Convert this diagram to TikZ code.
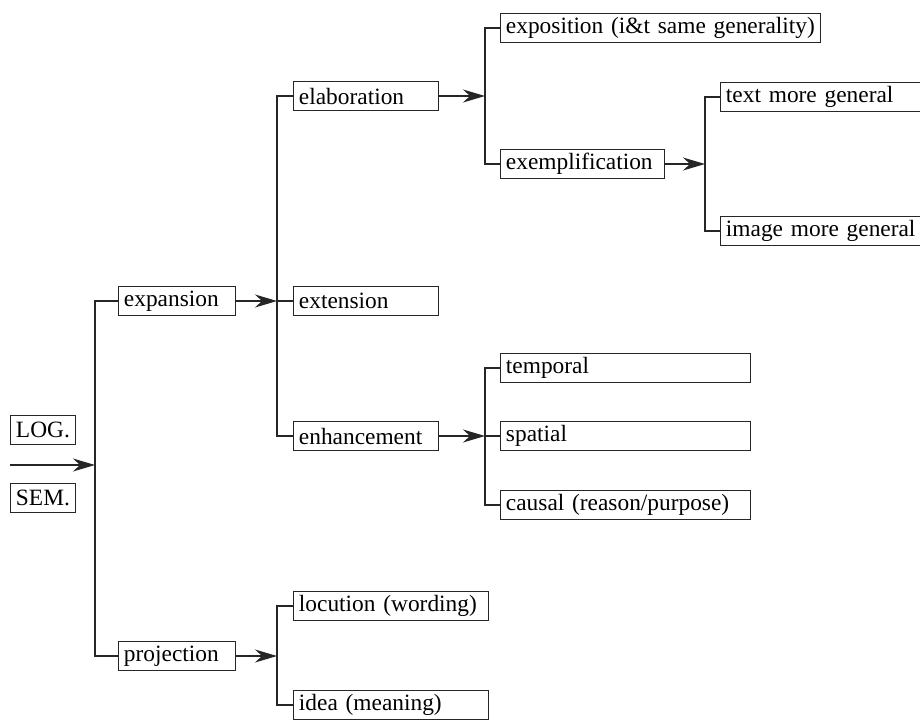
\documentclass[tikz,border=0pt]{standalone}
\usepackage{fontspec}
\setmainfont{Liberation Serif}
\usetikzlibrary{arrows.meta}

\begin{document}
\begin{tikzpicture}[
    x=0.2mm, y=-0.2mm,
    % Style for the category boxes (argument: box width in grid units)
    catBox/.style={
        draw=black!85,
        line width=0.8pt,
        anchor=west,
        minimum height=5.8mm,
        inner xsep=3pt,
        inner ysep=0pt,
        text width={#1*0.2mm-6pt},
        align=left,
        font=\fontsize{13.3}{16}\selectfont
    },
    % Style for the branching lines
    branchLine/.style={
        draw=black!85,
        line width=0.8pt
    },
    % Style for the arrows into a branch point
    feedArrow/.style={
        branchLine,
        -{Stealth[length=4.4mm, width=2.6mm, inset=1.4mm]}
    }
]
    \useasboundingbox (0,0) rectangle (920,719);

    % --- ROOT ---
    \node[catBox=65] (Log) at (10,430) {LOG.};
    \node[catBox=65] (Sem) at (10,498) {SEM.};
    \coordinate (Start) at (10,465);
    \coordinate (jRoot) at (95,465);

    % --- FIRST LEVEL ---
    \node[catBox=117] (Expansion) at (118,301) {expansion};
    \node[catBox=117] (Projection) at (118,656) {projection};
    \coordinate (jExp) at (277,301);
    \coordinate (jProj) at (277,656);

    % --- EXPANSION ---
    \node[catBox=145] (Elaboration) at (293,96) {elaboration};
    \node[catBox=145] (Extension) at (293,301) {extension};
    \node[catBox=145] (Enhancement) at (293,436) {enhancement};
    \coordinate (jElab) at (485,96);
    \coordinate (jEnh) at (485,436);

    % --- ELABORATION ---
    \node[catBox=320] (Exposition) at (500,28) {exposition (i\&t same generality)};
    \node[catBox=164] (Exemplification) at (500,164) {exemplification};
    \coordinate (jExem) at (705,164);
    \node[catBox=205] (TextGen) at (720,97) {text more general};
    \node[catBox=205] (ImageGen) at (720,231) {image more general};

    % --- ENHANCEMENT ---
    \node[catBox=250] (Temporal) at (500,368) {temporal};
    \node[catBox=250] (Spatial) at (500,436) {spatial};
    \node[catBox=250] (Causal) at (500,505) {causal (reason/purpose)};

    % --- PROJECTION ---
    \node[catBox=195] (Locution) at (293,606) {locution (wording)};
    \node[catBox=195] (Idea) at (293,705) {idea (meaning)};

    % --- ARROWS ---
    \draw[feedArrow] (Start) -- (jRoot);
    \draw[feedArrow] (Expansion.east) -- (jExp);
    \draw[feedArrow] (Projection.east) -- (jProj);
    \draw[feedArrow] (Elaboration.east) -- (jElab);
    \draw[feedArrow] (Enhancement.east) -- (jEnh);
    \draw[feedArrow] (Exemplification.east) -- (jExem);

    % --- BRANCHES ---
    \draw[branchLine] (Expansion.west) -| (jRoot) |- (Projection.west);
    \draw[branchLine] (Elaboration.west) -| (jExp) |- (Enhancement.west);
    \draw[branchLine] (jExp) -- (Extension.west);
    \draw[branchLine] (Exposition.west) -| (jElab) |- (Exemplification.west);
    \draw[branchLine] (TextGen.west) -| (jExem) |- (ImageGen.west);
    \draw[branchLine] (Temporal.west) -| (jEnh) |- (Causal.west);
    \draw[branchLine] (jEnh) -- (Spatial.west);
    \draw[branchLine] (Locution.west) -| (jProj) |- (Idea.west);

\end{tikzpicture}
\end{document}
